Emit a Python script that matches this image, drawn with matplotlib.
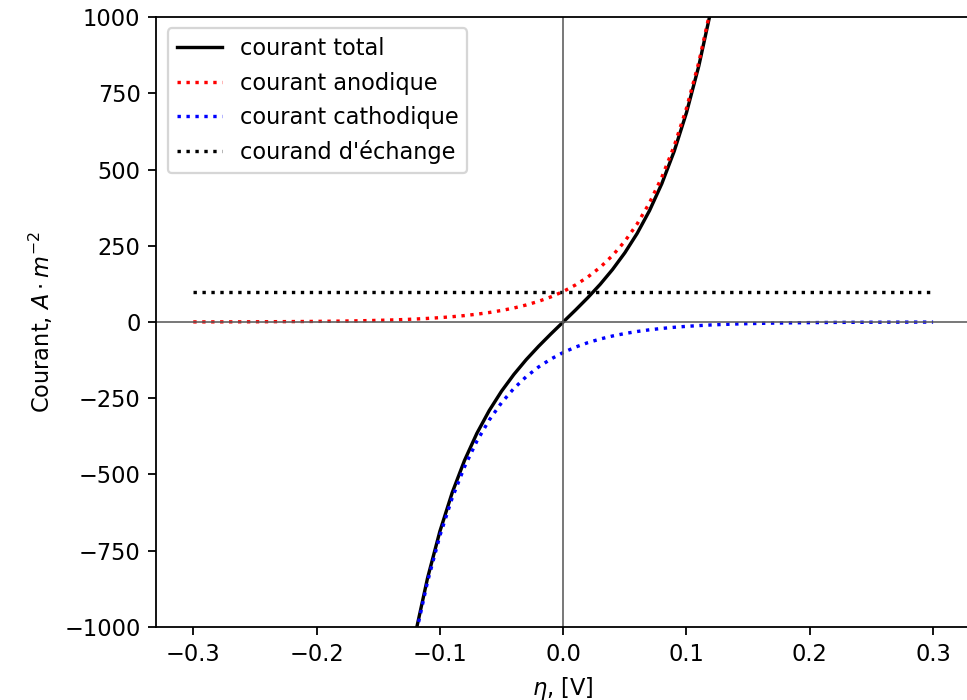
import matplotlib
matplotlib.use("Agg")
import matplotlib.pyplot as plt

# overpotential grid [V]
eta = [-0.30, -0.29, -0.28, -0.27, -0.26, -0.25, -0.24, -0.23, -0.22, -0.21,
       -0.20, -0.19, -0.18, -0.17, -0.16, -0.15, -0.14, -0.13, -0.12, -0.11,
       -0.10, -0.09, -0.08, -0.07, -0.06, -0.05, -0.04, -0.03, -0.02, -0.01,
       0.00, 0.01, 0.02, 0.03, 0.04, 0.05, 0.06, 0.07, 0.08, 0.09,
       0.10, 0.11, 0.12, 0.13, 0.14, 0.15, 0.16, 0.17, 0.18, 0.19,
       0.20, 0.21, 0.22, 0.23, 0.24, 0.25, 0.26, 0.27, 0.28, 0.29, 0.30]

# anodic current [A/m2]
i_anod = [0.29, 0.35, 0.43, 0.52, 0.63, 0.77, 0.93, 1.14, 1.38, 1.68,
          2.04, 2.47, 3.01, 3.65, 4.44, 5.39, 6.55, 7.96, 9.67, 11.75,
          14.27, 17.34, 21.06, 25.59, 31.09, 37.78, 45.89, 55.77, 67.75, 82.3,
          100.0, 121.5, 147.6, 179.3, 217.9, 264.7, 321.6, 390.7, 474.8, 576.8,
          700.8, 851.4, 1034.4, 1256.8, 1527, 1855, 2254, 2738, 3327, 4042,
          4911, 5967, 7249, 8807, 10700, 13000, 15790, 19190, 23310, 28320, 34410]

# cathodic current [A/m2]
i_cath = [-34410, -28320, -23310, -19190, -15790, -13000, -10700, -8807, -7249, -5967,
          -4911, -4042, -3327, -2738, -2254, -1855, -1527, -1256.8, -1034.4, -851.4,
          -700.8, -576.8, -474.8, -390.7, -321.6, -264.7, -217.9, -179.3, -147.6, -121.5,
          -100.0, -82.3, -67.75, -55.77, -45.89, -37.78, -31.09, -25.59, -21.06, -17.34,
          -14.27, -11.75, -9.67, -7.96, -6.55, -5.39, -4.44, -3.65, -3.01, -2.47,
          -2.04, -1.68, -1.38, -1.14, -0.93, -0.77, -0.63, -0.52, -0.43, -0.35, -0.29]

# total current [A/m2]
i_total = [-34410, -28320, -23310, -19190, -15790, -13000, -10699, -8806, -7248, -5965,
           -4909, -4040, -3324, -2734, -2250, -1850, -1520, -1248.8, -1024.7, -839.7,
           -686.5, -559.5, -453.7, -365.1, -290.5, -226.9, -172.0, -123.5, -79.9, -39.2,
           0.0, 39.2, 79.9, 123.5, 172.0, 226.9, 290.5, 365.1, 453.7, 559.5,
           686.5, 839.7, 1024.7, 1248.8, 1520, 1850, 2250, 2734, 3324, 4040,
           4909, 5965, 7248, 8806, 10699, 13000, 15790, 19190, 23310, 28320, 34410]

# exchange current density
i_ech_eta = [-0.30, 0.30]
i_ech = [100, 100]

DPI = 162
fig = plt.figure(figsize=(967 / DPI, 700 / DPI), dpi=DPI)
ax = fig.add_axes([0.1616, 0.1043, 0.8416, 0.8714])

ax.plot(eta, i_total, '-', color='k', label='courant total')
ax.plot(eta, i_anod, ':', color='r', label='courant anodique')
ax.plot(eta, i_cath, ':', color='b', label='courant cathodique')
ax.plot(i_ech_eta, i_ech, ':', color='k', label="courand d'échange")

ax.axhline(0, color='0.35', lw=0.7)
ax.axvline(0, color='0.35', lw=0.7)

ax.set_xlim(-0.33, 0.33)
ax.set_ylim(-1000, 1000)
ax.set_xlabel(r'$\eta$, [V]')
ax.set_ylabel(r'Courant, $A\cdot m^{-2}$')
ax.legend(loc='upper left')

fig.savefig('out.png', dpi=DPI)
